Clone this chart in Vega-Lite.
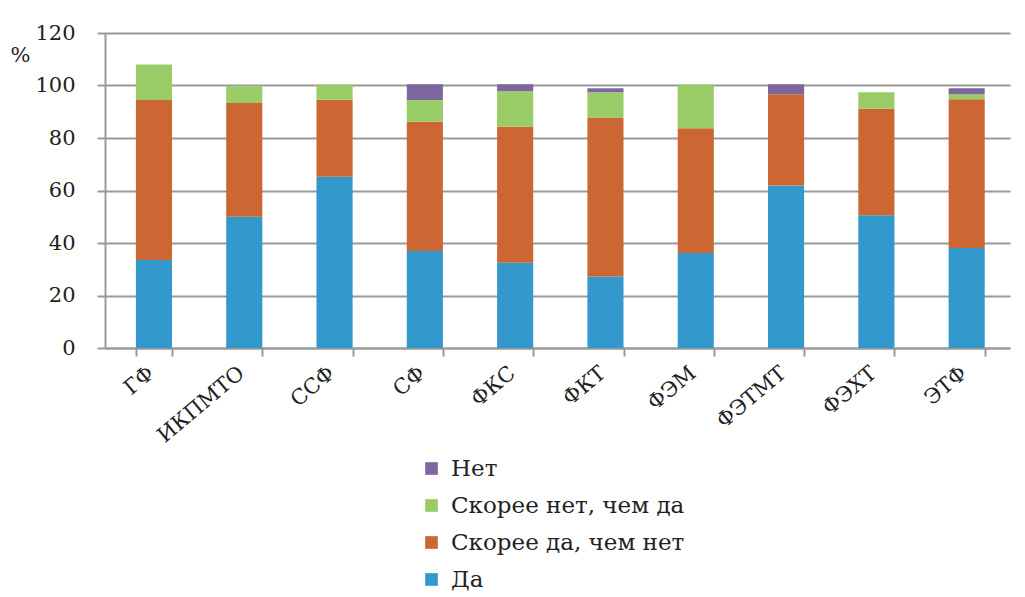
{
  "$schema": "https://vega.github.io/schema/vega-lite/v6.json",
  "autosize": {"type": "none"},
  "padding": {"left": 105, "top": 33, "right": 15, "bottom": 249},
  "width": 905,
  "height": 315,
  "background": "white",
  "config": {
    "font": "DejaVu Serif",
    "axis": {"labelFont": "DejaVu Serif", "titleFont": "DejaVu Serif"},
    "legend": {"labelFont": "DejaVu Serif"},
    "view": {"stroke": null}
  },
  "data": {
    "values": [
      {"fac": "ГФ", "resp": "Да", "o": 1, "v": 33.5},
      {"fac": "ГФ", "resp": "Скорее да, чем нет", "o": 2, "v": 61},
      {"fac": "ГФ", "resp": "Скорее нет, чем да", "o": 3, "v": 13.5},
      {"fac": "ГФ", "resp": "Нет", "o": 4, "v": 0},
      {"fac": "ИКПМТО", "resp": "Да", "o": 1, "v": 50},
      {"fac": "ИКПМТО", "resp": "Скорее да, чем нет", "o": 2, "v": 43.3},
      {"fac": "ИКПМТО", "resp": "Скорее нет, чем да", "o": 3, "v": 6.4},
      {"fac": "ИКПМТО", "resp": "Нет", "o": 4, "v": 0},
      {"fac": "ССФ", "resp": "Да", "o": 1, "v": 65.2},
      {"fac": "ССФ", "resp": "Скорее да, чем нет", "o": 2, "v": 29.4},
      {"fac": "ССФ", "resp": "Скорее нет, чем да", "o": 3, "v": 5.8},
      {"fac": "ССФ", "resp": "Нет", "o": 4, "v": 0},
      {"fac": "СФ", "resp": "Да", "o": 1, "v": 37},
      {"fac": "СФ", "resp": "Скорее да, чем нет", "o": 2, "v": 49.2},
      {"fac": "СФ", "resp": "Скорее нет, чем да", "o": 3, "v": 8.3},
      {"fac": "СФ", "resp": "Нет", "o": 4, "v": 6},
      {"fac": "ФКС", "resp": "Да", "o": 1, "v": 32.5},
      {"fac": "ФКС", "resp": "Скорее да, чем нет", "o": 2, "v": 51.8},
      {"fac": "ФКС", "resp": "Скорее нет, чем да", "o": 3, "v": 13.5},
      {"fac": "ФКС", "resp": "Нет", "o": 4, "v": 2.7},
      {"fac": "ФКТ", "resp": "Да", "o": 1, "v": 27.2},
      {"fac": "ФКТ", "resp": "Скорее да, чем нет", "o": 2, "v": 60.6},
      {"fac": "ФКТ", "resp": "Скорее нет, чем да", "o": 3, "v": 9.6},
      {"fac": "ФКТ", "resp": "Нет", "o": 4, "v": 1.6},
      {"fac": "ФЭМ", "resp": "Да", "o": 1, "v": 36.2},
      {"fac": "ФЭМ", "resp": "Скорее да, чем нет", "o": 2, "v": 47.5},
      {"fac": "ФЭМ", "resp": "Скорее нет, чем да", "o": 3, "v": 16.7},
      {"fac": "ФЭМ", "resp": "Нет", "o": 4, "v": 0},
      {"fac": "ФЭТМТ", "resp": "Да", "o": 1, "v": 61.9},
      {"fac": "ФЭТМТ", "resp": "Скорее да, чем нет", "o": 2, "v": 34.8},
      {"fac": "ФЭТМТ", "resp": "Скорее нет, чем да", "o": 3, "v": 0},
      {"fac": "ФЭТМТ", "resp": "Нет", "o": 4, "v": 3.8},
      {"fac": "ФЭХТ", "resp": "Да", "o": 1, "v": 50.6},
      {"fac": "ФЭХТ", "resp": "Скорее да, чем нет", "o": 2, "v": 40.5},
      {"fac": "ФЭХТ", "resp": "Скорее нет, чем да", "o": 3, "v": 6.3},
      {"fac": "ФЭХТ", "resp": "Нет", "o": 4, "v": 0},
      {"fac": "ЭТФ", "resp": "Да", "o": 1, "v": 38.1},
      {"fac": "ЭТФ", "resp": "Скорее да, чем нет", "o": 2, "v": 56.7},
      {"fac": "ЭТФ", "resp": "Скорее нет, чем да", "o": 3, "v": 1.9},
      {"fac": "ЭТФ", "resp": "Нет", "o": 4, "v": 2.3}
    ]
  },
  "mark": {"type": "bar"},
  "encoding": {
    "x": {
      "field": "fac",
      "type": "nominal",
      "sort": null,
      "scale": {"paddingInner": 0.6, "paddingOuter": 0.311, "align": 0.55},
      "axis": {
        "title": null,
        "labelAngle": -40,
        "labelAlign": "right",
        "labelBaseline": "top",
        "labelFontSize": 21,
        "labelColor": "#222",
        "labelPadding": 6,
        "labelOffset": -10,
        "ticks": true,
        "tickSize": 8,
        "tickColor": "#999",
        "tickWidth": 2,
        "tickBand": "extent",
        "domainColor": "#999",
        "domainWidth": 2
      }
    },
    "y": {
      "field": "v",
      "type": "quantitative",
      "stack": "zero",
      "scale": {"domain": [0, 120], "nice": false},
      "axis": {
        "values": [0, 20, 40, 60, 80, 100, 120],
        "title": "%",
        "titleAngle": 0,
        "titleAlign": "left",
        "titleBaseline": "middle",
        "titleX": -95,
        "titleY": 22,
        "titleFontSize": 21,
        "titleFontWeight": "normal",
        "titleColor": "#222",
        "labelFontSize": 21,
        "labelColor": "#222",
        "labelPadding": 22,
        "tickSize": 8,
        "tickColor": "#999",
        "tickWidth": 2,
        "domainColor": "#999",
        "domainWidth": 2,
        "grid": true,
        "gridColor": "#999",
        "gridWidth": 2
      }
    },
    "color": {
      "field": "resp",
      "type": "nominal",
      "scale": {
        "domain": ["Нет", "Скорее нет, чем да", "Скорее да, чем нет", "Да"],
        "range": ["#7d679f", "#99cc66", "#cc6633", "#3399cc"]
      },
      "legend": {
        "title": null,
        "orient": "none",
        "legendX": 315,
        "legendY": 424,
        "direction": "vertical",
        "symbolType": "square",
        "symbolSize": 160,
        "symbolStrokeWidth": 0,
        "labelFontSize": 23,
        "labelLimit": 400,
        "labelColor": "#222",
        "labelOffset": 8,
        "rowPadding": 13
      }
    },
    "order": {"field": "o", "type": "quantitative"}
  }
}
